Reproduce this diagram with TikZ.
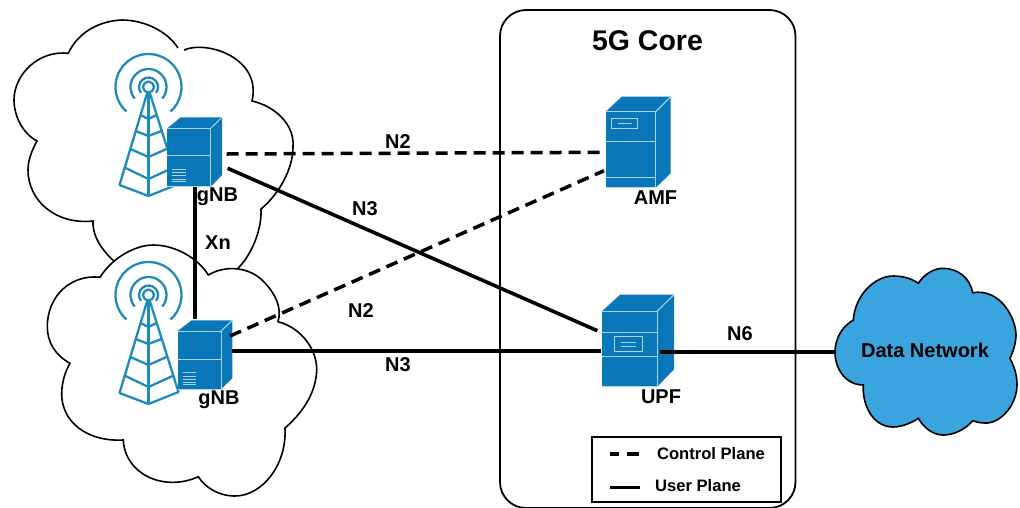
\documentclass[tikz,border=0pt]{standalone}
\usepackage{fontspec}
\setmainfont{Liberation Sans}
\usetikzlibrary{fit}
\definecolor{srvblue}{HTML}{0A77B8}
\definecolor{srvline}{HTML}{A9D6EE}
\definecolor{twrblue}{HTML}{1F8BB8}
\definecolor{netblue}{HTML}{3AA4DE}
\tikzset{
  cloudline/.style={line width=1.6pt,line join=miter,black},
  solidlink/.style={line width=3.6pt,black},
  dashlink/.style={line width=3.5pt,black,dash pattern=on 12pt off 7pt},
  lbl/.style={font=\fontsize{20}{22}\selectfont\bfseries,inner sep=0pt,text=black,anchor=center},
  legendlbl/.style={font=\fontsize{16.6}{18}\selectfont\bfseries,inner sep=0pt,text=black,anchor=center},
  twr/.style={line width=2.3pt,twrblue,line join=round},
  srvl/.style={line width=1pt,srvline}
}
% tower: #1 name, apex at (#2,#3)
\newcommand{\twrpic}[3]{%
  \begin{scope}[shift={(#2,#3)}]
    \coordinate (#1) at (0,0);
    \draw[twr] (0,0) circle[radius=5.5];
    \draw[twr] (142:9.5) arc[start angle=142,end angle=398,radius=9.5];
    \draw[twr] (140:18) arc[start angle=140,end angle=400,radius=18];
    \draw[twr] (132:33) arc[start angle=132,end angle=408,radius=33];
    \draw[twr] (-1,5) -- (-29,98) -- (0,109) -- (30,97) -- (1,5);
    \draw[twr] (0,5) -- (0,109);
    \draw[twr] (-8,28) -- (0,32) -- (8,28);
    \draw[twr] (-13,44) -- (0,49) -- (13,44);
    \draw[twr] (-18,62) -- (0,70) -- (18,62);
    \draw[twr] (-23,81) -- (0,92) -- (24,81);
  \end{scope}}
% server body: #1 name; front x1 y1 x2 y2; back x1 x2 y; back bottom y
\newcommand{\srvpic}[9]{%
  \fill[srvblue] (#2,#3) -- (#7,#8) -- (#6,#8) -- (#4,#3) -- cycle;
  \fill[srvblue] (#2,#3) rectangle (#4,#5);
  \fill[srvblue] (#4,#3) -- (#6,#8) -- (#6,#9) -- (#4,#5) -- cycle;
  \draw[srvl] (#2,#5) -- (#4,#5) -- (#4,#3) -- (#2,#3);
  \draw[srvl] (#4,#3) -- (#6,#8);
  \node[inner sep=0pt,fit={(#2,#3) (#4,#5)}] (#1) {};}
\begin{document}
\begin{tikzpicture}[x=1pt,y=-1pt]
\useasboundingbox (0,0) rectangle (1020,507);
\fill[white] (0,0) rectangle (1020,507);

% first cloud (open at the top)
\draw[cloudline] (184,50) .. controls (207,40) and (262,58) .. (252,101)
  .. controls (275,106) and (295,125) .. (293,147)
  .. controls (293,170) and (278,195) .. (261,209)
  .. controls (262,230) and (252,250) .. (245,260)
  .. controls (236,272) and (230,275) .. (225,275);
\draw[cloudline] (125,270) .. controls (108,258) and (92,240) .. (93,221)
  .. controls (55,225) and (28,200) .. (28,170)
  .. controls (28,160) and (32,150) .. (37,141)
  .. controls (22,133) and (14,115) .. (14,100)
  .. controls (14,75) and (38,50) .. (68.3,53.3)
  .. controls (78,32) and (100,20.7) .. (122,20)
  .. controls (145,20) and (168,32) .. (178,48);

% second cloud
\draw[cloudline,fill=white] (100,277.3) .. controls (112,258) and (135,245) .. (153.3,245)
  .. controls (175,245) and (198,258) .. (208.3,275)
  .. controls (225,265) and (250,266) .. (265,283)
  .. controls (276,295) and (282,308) .. (278,321.7)
  .. controls (302,328) and (317,350) .. (316.7,370)
  .. controls (316,395) and (300,415) .. (285,428)
  .. controls (287,465) and (262,496) .. (235,496)
  .. controls (218,496) and (205,487) .. (198.3,476.7)
  .. controls (165,492) and (125,475) .. (123.3,440)
  .. controls (85,442) and (61,420) .. (61.7,393)
  .. controls (62,382) and (65,372) .. (70,363.3)
  .. controls (55,355) and (47.3,342) .. (47.3,326.7)
  .. controls (47.3,295) and (72,274) .. (100,277.3) -- cycle;

% data network cloud
\draw[cloudline,fill=netblue] (853.3,320) .. controls (855,295) and (875,276) .. (893,276)
  .. controls (902,276) and (911,278) .. (918.3,283.3)
  .. controls (925,273) and (935,268.3) .. (943,268.3)
  .. controls (958,268.3) and (970,278) .. (972.7,292.7)
  .. controls (1000,288) and (1016,318) .. (1016,335)
  .. controls (1016,343) and (1013,352) .. (1010,358.3)
  .. controls (1016,370) and (1017,378) .. (1017,385)
  .. controls (1017,405) and (1000,424) .. (985,423)
  .. controls (980,423) and (976,422) .. (972.7,420.7)
  .. controls (965,430) and (953,435) .. (943.3,435)
  .. controls (933,435) and (924,428) .. (918.3,418.3)
  .. controls (910,424) and (900,427) .. (893,427)
  .. controls (873,427) and (862,405) .. (863.3,385)
  .. controls (845,385) and (835,368) .. (835,353)
  .. controls (835,335) and (845,325) .. (853.3,320) -- cycle;
\node[lbl] (dn) at (925,350) {Data Network};

% 5G core box
\draw[line width=1.8pt,rounded corners=26pt] (500,10) rectangle (795.5,508);
\node[font=\fontsize{28.5}{30}\selectfont\bfseries,inner sep=0pt] (core) at (647.5,40.5) {5G Core};

% towers
\twrpic{towerA}{148.5}{87}
\twrpic{towerB}{148.5}{295}

% gNB 1
\srvpic{gnbA}{167.3}{128.3}{210.7}{186.7}{222}{180.7}{117.3}{175}
\draw[srvl] (167.3,155.7) -- (210.7,155.7);
\foreach \yy in {169,172.3,175.7,179,181.7} \draw[srvline,line width=.8pt] (171.7,\yy) -- (186,\yy);
% gNB 2
\srvpic{gnbB}{177.7}{331}{221}{389.3}{232.3}{191.7}{320.3}{378.3}
\draw[srvl] (177.7,359) -- (221,359);
\foreach \yy in {372.7,376,379.3,382.5,384.8} \draw[srvline,line width=.8pt] (182.7,\yy) -- (196,\yy);
% AMF
\srvpic{amf}{605.7}{111.7}{655.7}{187.7}{670.7}{621.7}{96.7}{173.3}
\draw[srvl] (605.7,141.3) -- (655.7,141.3);
\draw[srvl] (605.7,177) -- (655.7,177);
\draw[srvl,line width=1.3pt] (611.7,118.3) rectangle (637.7,128.3);
\draw[srvl] (617.7,123.3) -- (631.7,123.3);
% UPF
\srvpic{upf}{602.3}{311}{657.3}{386.7}{674}{620}{294.7}{369.3}
\draw[srvl] (602.3,332) -- (657.3,332);
\draw[srvl] (602.3,356.3) -- (657.3,356.3);
\draw[srvl,line width=1.3pt] (614.3,336.7) rectangle (642.7,351.7);
\draw[srvl] (621,342.3) -- (636,342.3);
\draw[srvl] (621,346.3) -- (636,346.3);

% connector ports
\coordinate (gnbA-n2) at (226.7,154);
\coordinate (amf-n2a) at (603,152.3);
\coordinate (gnbB-n2) at (230,336);
\coordinate (amf-n2b) at (604,170.7);
\coordinate (gnbA-n3) at (227.7,168.3);
\coordinate (upf-n3a) at (597.3,330.7);
\coordinate (gnbB-n3) at (232,351);
\coordinate (upf-n3b) at (601,351);
\coordinate (upf-n6) at (660,352);
\coordinate (dn-n6) at (835,352);
\coordinate (gnbA-xn) at (194.7,187);
\coordinate (gnbB-xn) at (194.7,319);

% connectors
\draw[dashlink] (gnbA-n2) -- (amf-n2a);
\draw[dashlink] (gnbB-n2) -- (amf-n2b);
\draw[solidlink] (gnbA-n3) -- (upf-n3a);
\draw[solidlink] (gnbB-n3) -- (upf-n3b);
\draw[solidlink] (upf-n6) -- (dn-n6);
\draw[solidlink] (gnbA-xn) -- (gnbB-xn);

% labels
\node[lbl] (lN2a) at (398,142) {N2};
\node[lbl] (lN3a) at (365,209) {N3};
\node[lbl] (lN2b) at (361,311) {N2};
\node[lbl] (lN3b) at (398,365) {N3};
\node[lbl] (lN6) at (740,334) {N6};
\node[lbl] (lXn) at (218,242.5) {Xn};
\node[lbl] (lgA) at (217.5,197) {gNB};
\node[lbl] (lgB) at (219,400) {gNB};
\node[lbl] (lamf) at (655.5,198) {AMF};
\node[lbl] (lupf) at (661,397) {UPF};

% legend
\draw[line width=1.6pt] (591.7,436.7) rectangle (780.7,501.7);
\coordinate (legA1) at (610,454);
\coordinate (legA2) at (639,454);
\coordinate (legB1) at (610,487.5);
\coordinate (legB2) at (639.5,487.5);
\draw[line width=3.3pt,dash pattern=on 9pt off 8pt on 12pt off 20pt] (legA1) -- (legA2);
\draw[line width=3.3pt] (legB1) -- (legB2);
\node[legendlbl] (lcp) at (711,454) {Control Plane};
\node[legendlbl] (lup) at (698,486) {User Plane};
\end{tikzpicture}
\end{document}
